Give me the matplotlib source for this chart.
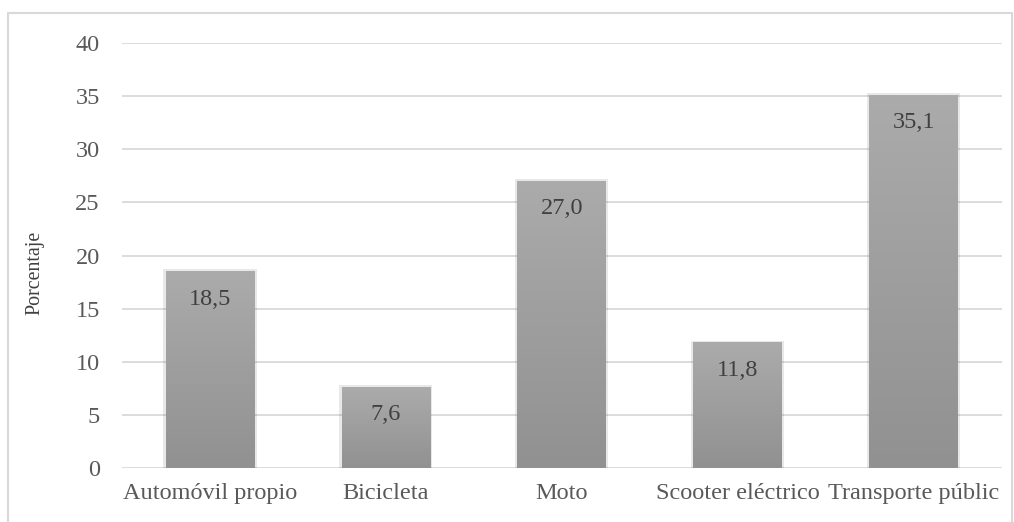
import numpy as np
import matplotlib.pyplot as plt
from matplotlib.patches import Rectangle
from matplotlib.colors import LinearSegmentedColormap

plt.rcParams['font.family'] = ['Liberation Serif', 'DejaVu Serif']

categorias = ['Automóvil propio', 'Bicicleta', 'Moto', 'Scooter eléctrico', 'Transporte públic']
porcentajes = [18.5, 7.6, 27.0, 11.8, 35.1]
etiquetas = ['18,5', '7,6', '27,0', '11,8', '35,1']
yticks = [0, 5, 10, 15, 20, 25, 30, 35, 40]

fig = plt.figure(figsize=(10.14, 5.22), dpi=100)
ax = fig.add_axes([0.1203, 0.1034, 0.8677, 0.8142])

# marco exterior del grafico
fig.patches.append(Rectangle((8 / 1014, -0.05), 1004 / 1014, 1.05 - 13 / 522,
                             transform=fig.transFigure, fill=False,
                             edgecolor='#d9d9d9', linewidth=1.5))

cmap = LinearSegmentedColormap.from_list('barra', ['#919191', '#ababab'])
ancho = 0.505
x = np.arange(len(categorias))
grad = np.linspace(0, 1, 256).reshape(-1, 1)
for xi, v in zip(x, porcentajes):
    # sombra suave
    ax.add_patch(Rectangle((xi - ancho / 2 - 0.012, 0), ancho + 0.024, v + 0.2,
                           facecolor='#000000', alpha=0.09, edgecolor='none', zorder=2))
    ax.imshow(grad, extent=(xi - ancho / 2, xi + ancho / 2, 0, v), origin='lower',
              cmap=cmap, aspect='auto', zorder=3)

ax.bar(x, porcentajes, width=ancho, color='none', edgecolor='none', zorder=4)
for xi, v, t in zip(x, porcentajes, etiquetas):
    ax.text(xi, v - 2.6, t, ha='center', va='center', fontsize=17.5, color='#404040', zorder=5)

ax.set_xlim(-0.5, len(categorias) - 0.5)
ax.set_ylim(0, 40)
ax.set_yticks(yticks)
ax.set_xticks(x)
ax.set_xticklabels(categorias)
ax.tick_params(axis='both', length=0, labelsize=17.5, labelcolor='#595959')
ax.tick_params(axis='y', pad=16)
ax.tick_params(axis='x', pad=11)
ax.grid(axis='y', color='#d9d9d9', linewidth=1.3, zorder=0)
ax.set_axisbelow(True)
for s in ax.spines.values():
    s.set_visible(False)
ax.set_ylabel('Porcentaje', fontsize=14.4, color='#404040')
ax.yaxis.set_label_coords(-0.088, 0.459)

fig.savefig('out.png', dpi=100)
